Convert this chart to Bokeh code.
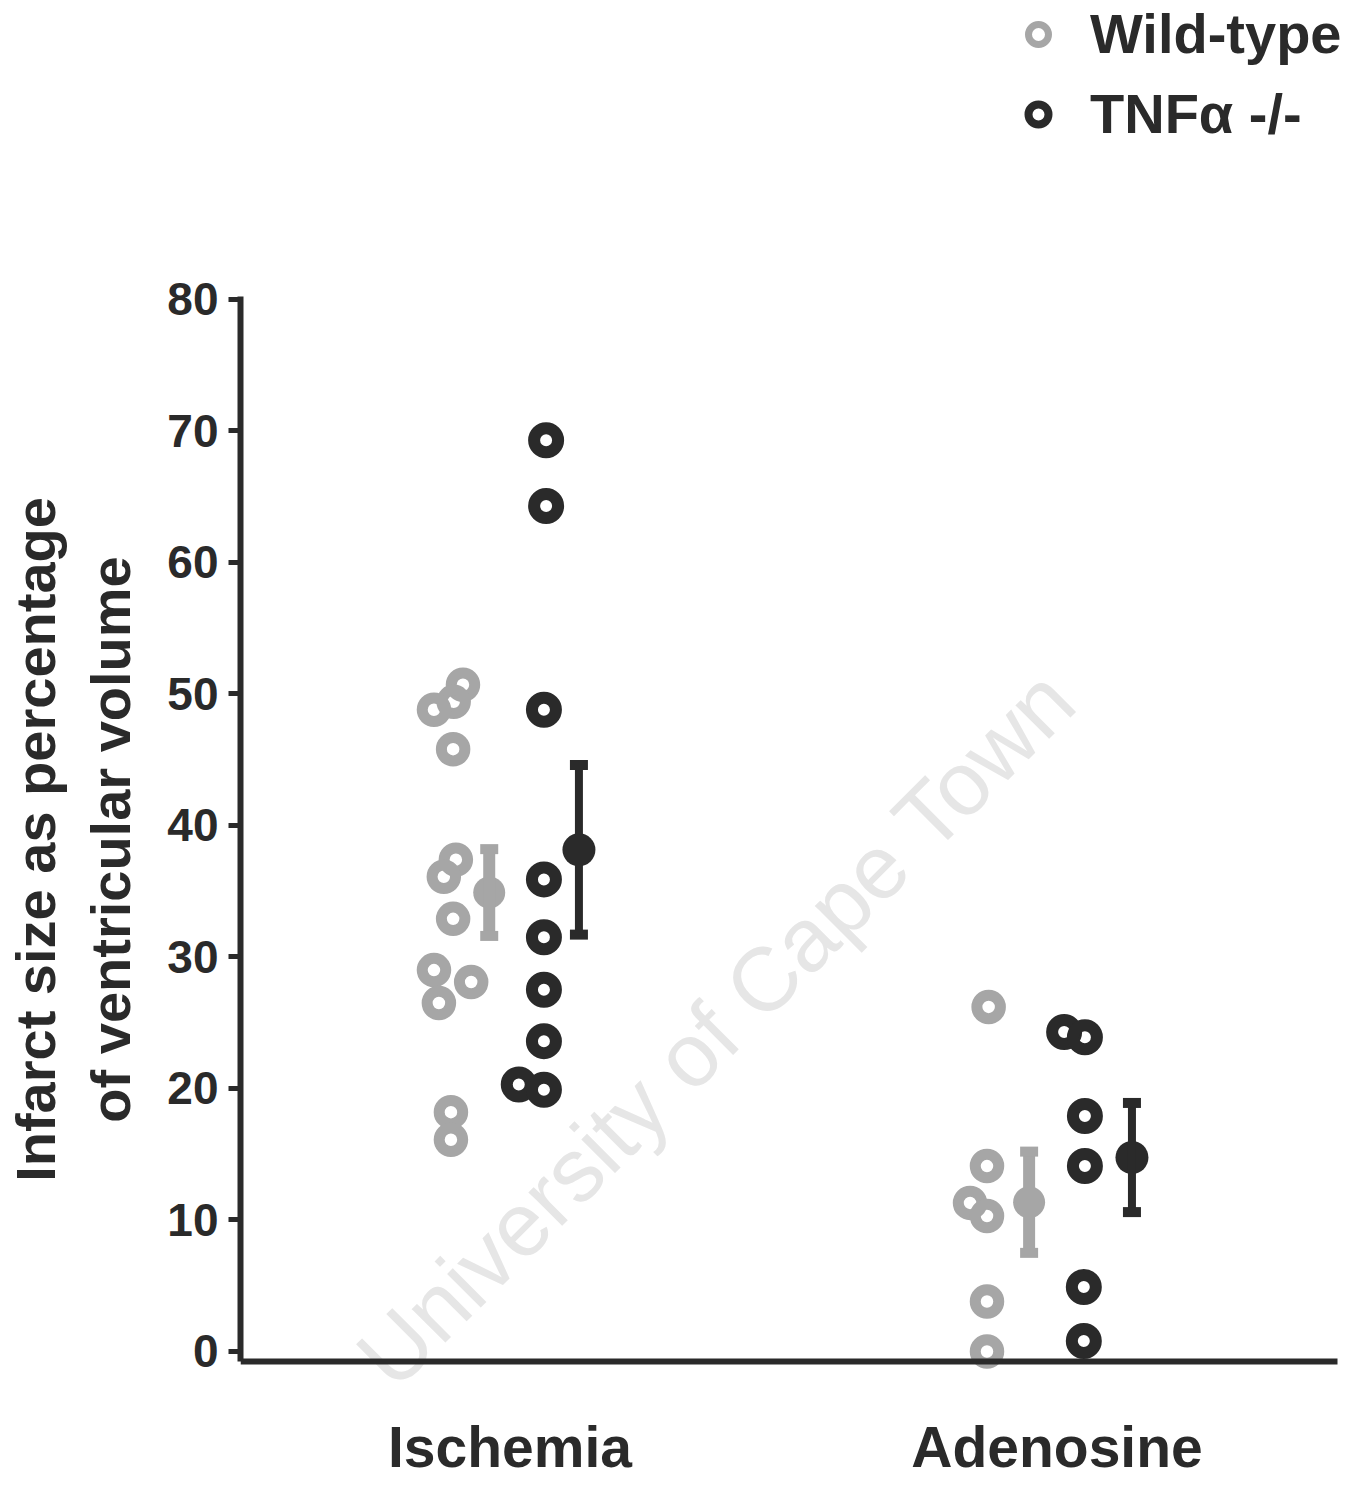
from bokeh.plotting import figure
from bokeh.layouts import column
from bokeh.models import (Range1d, FixedTicker, Whisker, TeeHead, ColumnDataSource,
                          Legend, LegendItem, Label)
from bokeh.embed import file_html
from bokeh.resources import INLINE

# ---------------- data ----------------
groups = ["Ischemia", "Adenosine"]
group_pos = [1, 2]
y_ticks = [0, 10, 20, 30, 40, 50, 60, 70, 80]

# individual values (infarct size, % of ventricular volume)
wt_isch = [50.7, 49.4, 48.8, 45.8, 37.4, 36.1, 32.9, 29.0, 28.1, 26.5, 18.2, 16.1]
wt_isch_jitter = [-0.086, -0.103, -0.139, -0.104, -0.099, -0.121, -0.104, -0.139, -0.071, -0.130, -0.108, -0.108]
tnf_isch = [69.3, 64.3, 48.8, 35.9, 31.5, 27.5, 23.6, 20.3, 19.9]
tnf_isch_jitter = [0.066, 0.066, 0.062, 0.062, 0.062, 0.062, 0.062, 0.016, 0.062]
wt_aden = [26.2, 14.1, 11.3, 10.3, 3.8, 0.0]
wt_aden_jitter = [-0.125, -0.128, -0.159, -0.128, -0.128, -0.128]
tnf_aden = [24.3, 23.9, 17.9, 14.1, 4.9, 0.8]
tnf_aden_jitter = [0.013, 0.051, 0.051, 0.051, 0.049, 0.049]

# group means and SEM
wt_mean = [34.9, 11.35]
wt_sem = [3.3, 3.85]
wt_mean_jitter = [-0.038, -0.051]
tnf_mean = [38.15, 14.75]
tnf_sem = [6.45, 4.15]
tnf_mean_jitter = [0.126, 0.137]

GRAY = "#a6a6a6"
DARK = "#2a2a2a"
FONT = "Liberation Sans"
NAN = float("nan")

# ---------------- legend strip ----------------
top = figure(width=1345, height=199, output_backend="svg", toolbar_location=None,
             x_axis_location=None, y_axis_location=None,
             x_range=Range1d(0, 1), y_range=Range1d(0, 1),
             min_border_left=0, min_border_right=0, min_border_top=0, min_border_bottom=0)
top.outline_line_color = None
top.xgrid.visible = False
top.ygrid.visible = False
leg_wt = top.scatter([NAN], [NAN], marker="circle", size=20, line_width=7,
                     line_color=GRAY, fill_color=None)
leg_tnf = top.scatter([NAN], [NAN], marker="circle", size=20, line_width=8,
                      line_color=DARK, fill_color=None)
legend = Legend(items=[LegendItem(label="Wild-type", renderers=[leg_wt]),
                       LegendItem(label="TNF\u03b1 -/-", renderers=[leg_tnf])],
                location=(773, 53), margin=0, padding=0, spacing=15,
                glyph_width=50, glyph_height=50, label_standoff=27,
                label_text_font=FONT, label_text_font_size="56px",
                label_text_font_style="bold", label_text_color=DARK,
                label_text_line_height=1.0,
                border_line_color=None, background_fill_alpha=0)
top.add_layout(legend)

# ---------------- main plot ----------------
p = figure(width=1345, height=1280, output_backend="svg", toolbar_location=None,
           x_range=Range1d(0.5073, 2.5274), y_range=Range1d(-9.734, 87.60),
           min_border_left=232, min_border_right=0, min_border_top=0, min_border_bottom=0)
p.outline_line_color = None
p.xgrid.visible = False
p.ygrid.visible = False
p.background_fill_color = "white"

# watermark
wm = Label(x=1.377, y=24.6, text="University of Cape Town", angle=45, angle_units="deg",
           text_align="center", text_baseline="middle", text_font=FONT,
           text_font_size="90px", text_color="#e6e6e6", level="underlay")
p.add_layout(wm)

# rings
wt_x = [group_pos[0] + d for d in wt_isch_jitter] + [group_pos[1] + d for d in wt_aden_jitter]
wt_y = wt_isch + wt_aden
tnf_x = [group_pos[0] + d for d in tnf_isch_jitter] + [group_pos[1] + d for d in tnf_aden_jitter]
tnf_y = tnf_isch + tnf_aden

p.scatter(wt_x, wt_y, marker="circle", size=23.5, line_width=11,
          line_color=GRAY, fill_color=None)
p.scatter(tnf_x, tnf_y, marker="circle", size=24, line_width=12,
          line_color=DARK, fill_color=None)

# mean +/- SEM
wt_src = ColumnDataSource(dict(
    x=[g + d for g, d in zip(group_pos, wt_mean_jitter)], y=wt_mean,
    upper=[m + s for m, s in zip(wt_mean, wt_sem)],
    lower=[m - s for m, s in zip(wt_mean, wt_sem)]))
tnf_src = ColumnDataSource(dict(
    x=[g + d for g, d in zip(group_pos, tnf_mean_jitter)], y=tnf_mean,
    upper=[m + s for m, s in zip(tnf_mean, tnf_sem)],
    lower=[m - s for m, s in zip(tnf_mean, tnf_sem)]))

for src, col, stem in ((wt_src, GRAY, 12), (tnf_src, DARK, 8)):
    w = Whisker(source=src, base="x", upper="upper", lower="lower", dimension="height",
                line_color=col, line_width=stem,
                upper_head=TeeHead(size=18, line_width=10, line_color=col),
                lower_head=TeeHead(size=18, line_width=10, line_color=col),
                level="glyph")
    p.add_layout(w)

p.scatter("x", "y", source=wt_src, marker="circle", size=32, fill_color=GRAY, line_color=None)
p.scatter("x", "y", source=tnf_src, marker="circle", size=33, fill_color=DARK, line_color=None)

# axes
ya = p.yaxis[0]
ya.ticker = FixedTicker(ticks=y_ticks)
ya.bounds = (-0.76, 80.2)
ya.axis_line_width = 6
ya.axis_line_color = DARK
ya.major_tick_line_width = 5
ya.major_tick_line_color = DARK
ya.major_tick_out = 12
ya.major_tick_in = 0
ya.minor_tick_line_color = None
ya.major_label_standoff = 10
ya.major_label_text_font = FONT
ya.major_label_text_font_size = "46px"
ya.major_label_text_font_style = "bold"
ya.major_label_text_color = DARK
ya.axis_label = "Infarct size as percentage\nof ventricular volume"
ya.axis_label_text_font = FONT
ya.axis_label_text_font_size = "56px"
ya.axis_label_text_font_style = "bold"
ya.axis_label_text_color = DARK
ya.axis_label_standoff = 22

xa = p.xaxis[0]
xa.fixed_location = -0.76
xa.ticker = FixedTicker(ticks=group_pos)
xa.major_label_overrides = {g: n for g, n in zip(group_pos, groups)}
xa.bounds = (0.5073, 2.5128)
xa.axis_line_width = 6
xa.axis_line_color = DARK
xa.major_tick_line_color = None
xa.minor_tick_line_color = None
xa.major_tick_out = 0
xa.major_tick_in = 0
xa.major_label_standoff = 54
xa.major_label_text_line_height = 1.0
xa.major_label_text_font = FONT
xa.major_label_text_font_size = "57px"
xa.major_label_text_font_style = "bold"
xa.major_label_text_color = DARK

layout = column(top, p, spacing=0)
open("out.html", "w").write(file_html(layout, INLINE))
